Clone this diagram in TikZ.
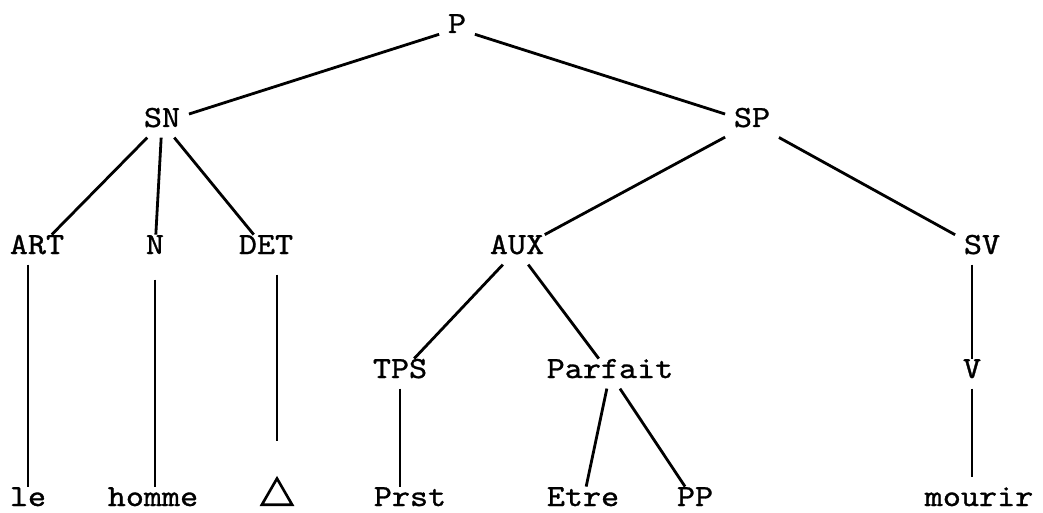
\documentclass[tikz,border=0pt]{standalone}
\usepackage{fontspec}
\newfontfamily\treefont[Extension=.otf,FakeStretch=1.12,FakeBold=1]{lmmono10-regular}
\usetikzlibrary{shapes.geometric}

\tikzset{
  cat/.style={font=\treefont\fontsize{17.5}{20}\selectfont, anchor=base,
    inner sep=0.17cm, text height=0.6em, text depth=0.1em},
  branch/.style={line width=1.6pt}
}

\begin{document}
\begin{tikzpicture}[x=0.02cm, y=-0.02cm]
      \fill [white] (0,0) rectangle (1043,513);
      \useasboundingbox (0,0) rectangle (1043,513);

      % top of the tree
      \node [cat] (P) at (457, 33) {P};
      \node [cat] (SN) at (162, 127) {SN};
      \node [cat] (SP) at (752, 127) {SP};

      \node [cat] (ART) at (37, 254) {ART};
      \node [cat] (N) at (155, 254) {N};
      \node [cat] (DET) at (266, 254) {DET};
      \node [cat] (AUX) at (517, 254) {AUX};
      \node [cat] (SV) at (982, 254) {SV};

      \node [cat] (TPS) at (400, 378) {TPS};
      \node [cat] (Parfait) at (610, 378) {Parfait};
      \node [cat] (V) at (972, 378) {V};

      % leaves
      \node [cat] (le) at (28, 506) {le};
      \node [cat] (homme) at (153, 506) {homme};
      \node [regular polygon, regular polygon sides=3, draw, line width=1.5pt,
        minimum size=0.7cm, inner sep=0pt] (tri) at (277, 496) {};
      \node [cat] (Prst) at (410, 506) {Prst};
      \node [cat] (Etre) at (583, 506) {Etre};
      \node [cat] (PP) at (695, 506) {PP};
      \node [cat] (mourir) at (979, 506) {mourir};

      \draw [branch] (P) -- (SN);
      \draw [branch] (P) -- (SP);
      \draw [branch] (SN) -- (ART);
      \draw [branch] (SN) -- (N);
      \draw [branch] (SN) -- (DET);
      \draw [branch] (SP) -- (AUX);
      \draw [branch] (SP) -- (SV);
      \draw [branch] (AUX) -- (TPS);
      \draw [branch] (AUX) -- (Parfait);
      \draw [branch] (Parfait) -- (Etre);
      \draw [branch] (Parfait) -- (PP);

      \draw [branch] (ART.south -| le) -- (le);
      \draw [branch, shorten <=0.3cm] (N) -- (N |- homme.north);
      \draw [branch, shorten <=0.2cm, shorten >=0.7cm] (tri |- DET.south) -- (tri);
      \draw [branch] (TPS) -- (TPS |- Prst.north);
      \draw [branch] (SV.south -| V) -- (V);
      \draw [branch, shorten >=0.2cm] (V) -- (V |- mourir.north);
\end{tikzpicture}
\end{document}
